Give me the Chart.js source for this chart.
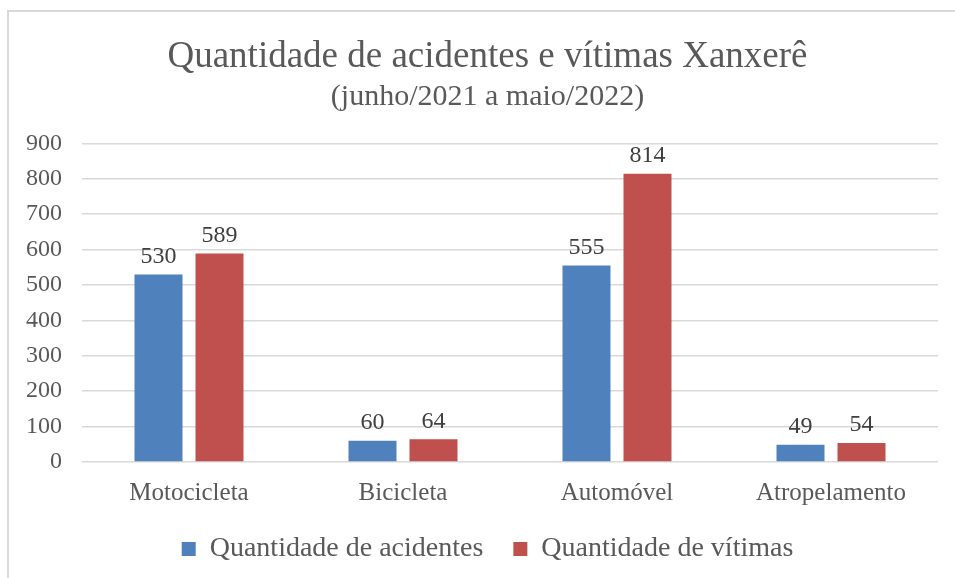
<!DOCTYPE html>
<html><head><meta charset="utf-8">
<script src="https://cdn.jsdelivr.net/npm/chart.js@4/dist/chart.umd.min.js"></script>
<style>
html,body{margin:0;padding:0;background:#fff;}
#frame{position:absolute;left:7px;top:10px;width:960px;height:580px;border-left:2px solid #d9d9d9;border-top:2px solid #d9d9d9;}
#wrap{position:absolute;left:0;top:0;width:955px;height:578px;}
</style></head>
<body>
<div id="frame"></div>
<div id="wrap"><canvas id="c" width="955" height="578"></canvas></div>
<script>
const categories = ["Motocicleta", "Bicicleta", "Automóvel", "Atropelamento"];
const acidentes = [530, 60, 555, 49];
const vitimas = [589, 64, 814, 54];
const seriesNames = ["Quantidade de acidentes", "Quantidade de vítimas"];
const yTicks = [0, 100, 200, 300, 400, 500, 600, 700, 800, 900];

const FONT = "'Liberation Serif', 'Times New Roman', serif";
const GREY = "#595959";

const dataLabels = {
  id: 'dataLabels',
  afterDatasetsDraw(chart) {
    const ctx = chart.ctx;
    ctx.save();
    ctx.font = "24px " + FONT;
    ctx.fillStyle = "#404040";
    ctx.textAlign = "center";
    ctx.textBaseline = "bottom";
    chart.data.datasets.forEach((ds, i) => {
      chart.getDatasetMeta(i).data.forEach((bar, j) => {
        ctx.fillText(String(ds.data[j]), bar.x, bar.y - 6);
      });
    });
    ctx.restore();
  }
};

new Chart(document.getElementById('c'), {
  type: 'bar',
  data: {
    labels: categories,
    datasets: [
      {label: seriesNames[0], data: acidentes, backgroundColor: '#4F81BD', categoryPercentage: 0.57, barPercentage: 0.787},
      {label: seriesNames[1], data: vitimas, backgroundColor: '#C0504D', categoryPercentage: 0.57, barPercentage: 0.787}
    ]
  },
  options: {
    responsive: false,
    animation: false,
    devicePixelRatio: 1,
    layout: {padding: {left: 20, right: 0, top: 35, bottom: 5}},
    plugins: {
      title: {display: true, text: "Quantidade de acidentes e vítimas Xanxerê", color: GREY,
        font: {family: FONT, size: 37, weight: 'normal', lineHeight: 1.2}, padding: {top: 0, bottom: 0}},
      subtitle: {display: true, text: "(junho/2021 a maio/2022)", color: GREY,
        font: {family: FONT, size: 30, weight: 'normal', lineHeight: 1.2}, padding: {top: 0, bottom: 28}},
      legend: {position: 'bottom', labels: {color: GREY, font: {family: FONT, size: 28},
        boxWidth: 14, boxHeight: 14, padding: 30}},
      tooltip: {enabled: false}
    },
    scales: {
      x: {grid: {display: false}, border: {display: false},
        ticks: {color: GREY, font: {family: FONT, size: 25}, padding: 8},
        afterFit: (s) => { s.height = 43; }},
      y: {min: 0, max: 900, afterBuildTicks: (s) => { s.ticks = yTicks.map(v => ({value: v})); },
        grid: {color: '#d9d9d9', lineWidth: 1.5, drawTicks: false},
        border: {display: false},
        ticks: {color: GREY, font: {family: FONT, size: 24}, padding: 20},
        afterFit: (s) => { s.width = 62; }},
      yRight: {position: 'right', display: true, grid: {display: false}, border: {display: false},
        ticks: {display: false}, afterFit: (s) => { s.width = 17; }}
    }
  },
  plugins: [dataLabels]
});
</script>
</body></html>
